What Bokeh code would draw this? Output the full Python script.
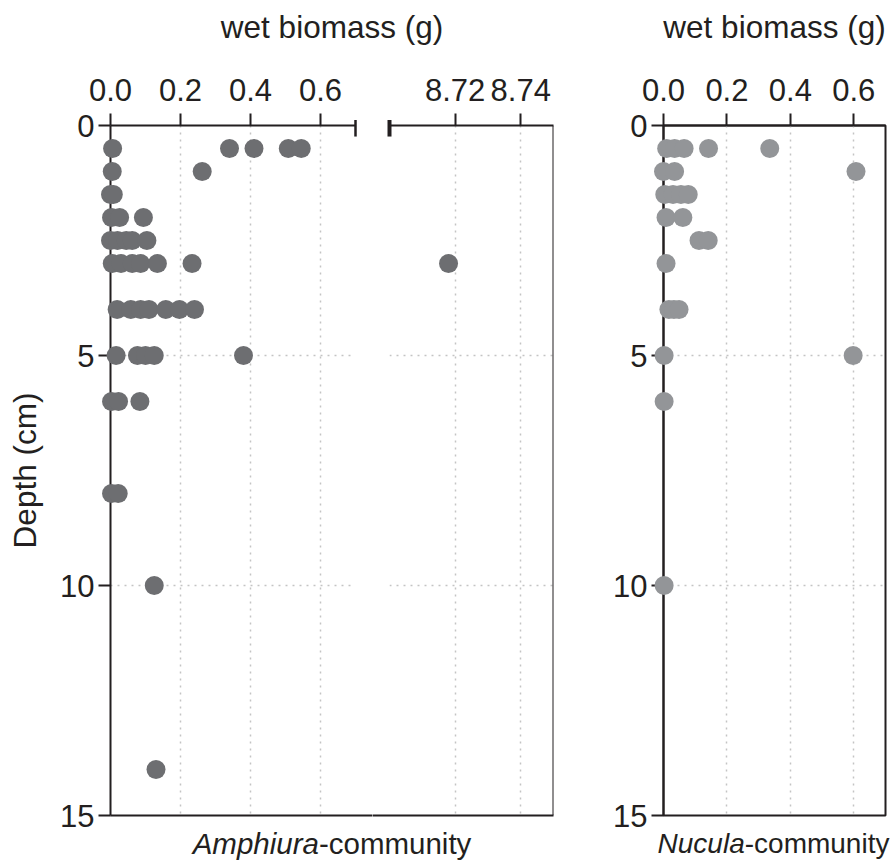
from bokeh.plotting import figure
from bokeh.layouts import column, row
from bokeh.models import (ColumnDataSource, Range1d, LinearAxis, FixedTicker,
                          PrintfTickFormatter, Grid, Span)
from bokeh.embed import file_html
from bokeh.resources import INLINE
from bokeh.core.properties import value

# ---- data: depth (cm) and wet biomass (g) per sample ----
amphiura_depth = [0.5, 0.5, 0.5, 0.5, 0.5,
                  1, 1,
                  1.5, 1.5,
                  2, 2, 2,
                  2.5, 2.5, 2.5, 2.5, 2.5,
                  3, 3, 3, 3, 3, 3, 3,
                  4, 4, 4, 4, 4, 4, 4,
                  5, 5, 5, 5, 5,
                  6, 6, 6,
                  8, 8,
                  10,
                  14]
amphiura_biomass = [0.006, 0.34, 0.41, 0.508, 0.545,
                    0.005, 0.262,
                    0.0, 0.008,
                    0.003, 0.026, 0.094,
                    0.0, 0.02, 0.045, 0.062, 0.104,
                    0.005, 0.03, 0.062, 0.086, 0.134, 0.233, 8.718,
                    0.019, 0.058, 0.086, 0.11, 0.158, 0.197, 0.24,
                    0.016, 0.077, 0.10, 0.125, 0.38,
                    0.003, 0.023, 0.084,
                    0.003, 0.022,
                    0.125,
                    0.13]

nucula_depth = [0.5, 0.5, 0.5, 0.5, 0.5,
                1, 1, 1,
                1.5, 1.5, 1.5, 1.5,
                2, 2,
                2.5, 2.5,
                3,
                4, 4, 4,
                5, 5,
                6,
                10]
nucula_biomass = [0.01, 0.035, 0.065, 0.142, 0.335,
                  0.0, 0.035, 0.607,
                  0.004, 0.03, 0.055, 0.078,
                  0.008, 0.061,
                  0.112, 0.141,
                  0.008,
                  0.017, 0.033, 0.049,
                  0.002, 0.598,
                  0.002,
                  0.002]

depth_ticks = [0, 5, 10, 15]
depth_grid = [5, 10]
low_ticks = [0.0, 0.2, 0.4, 0.6]
high_ticks = [8.72, 8.74]

# ---- styling / layout ----
INK = "#231f20"
AMPH_COLOR = "#6d6e71"
NUC_COLOR = "#939598"
GRID_COLOR = "#c4c4c4"
FONT = "Liberation Sans"
TICK_SIZE = "31px"
TITLE_SIZE = "31.5px"
DOT = 19

W = 894
TOP_H = 60
BORDER_TOP = 65
FRAME_H = 690
BORDER_BOTTOM = 20
PANEL_H = BORDER_TOP + FRAME_H + BORDER_BOTTOM
BOTTOM_OVERLAP = 20          # caption strip slides up over the empty panel margin
BOTTOM_H = 861 - TOP_H - PANEL_H + BOTTOM_OVERLAP

LOW_RANGE = (0.0, 0.7)
HIGH_RANGE = (8.70, 8.75)
DEPTH_RANGE = (15, 0)

# panel widths: (border_left, frame, border_right)
A_DIMS = (110, 245, 17)
B_DIMS = (17, 164, 10)
C_DIMS = (100, 222, 9)


def make_panel(dims, xr):
    bl, fw, br = dims
    p = figure(width=bl + fw + br, height=PANEL_H,
               x_range=Range1d(*xr), y_range=Range1d(*DEPTH_RANGE),
               x_axis_type=None, y_axis_type=None,
               toolbar_location=None, output_backend="svg",
               min_border_left=bl, min_border_right=br,
               min_border_top=BORDER_TOP, min_border_bottom=BORDER_BOTTOM,
               outline_line_color=None)
    return p


def style_axis(ax):
    ax.axis_line_color = INK
    ax.axis_line_width = 2
    ax.major_tick_line_color = INK
    ax.major_tick_line_width = 2
    ax.major_tick_in = 0
    ax.major_tick_out = 12
    ax.minor_tick_line_color = None
    ax.major_label_text_font = FONT
    ax.major_label_text_font_size = TICK_SIZE
    ax.major_label_text_color = INK


def top_axis(p, ticks, fmt):
    ax = LinearAxis(ticker=FixedTicker(ticks=ticks),
                    formatter=PrintfTickFormatter(format=fmt))
    style_axis(ax)
    ax.major_label_standoff = 13
    p.add_layout(ax, "above")
    return ax


def left_axis(p, label=None):
    ax = LinearAxis(ticker=FixedTicker(ticks=depth_ticks))
    style_axis(ax)
    ax.major_label_standoff = 4
    if label:
        ax.axis_label = label
        ax.axis_label_text_font = FONT
        ax.axis_label_text_font_size = TITLE_SIZE
        ax.axis_label_text_font_style = "normal"
        ax.axis_label_text_color = INK
        ax.axis_label_standoff = 14
    p.add_layout(ax, "left")
    return ax


def add_grid(p, xticks):
    for dim, ticks in ((0, xticks), (1, depth_grid)):
        g = Grid(dimension=dim, ticker=FixedTicker(ticks=ticks),
                 grid_line_color=GRID_COLOR, grid_line_width=1.5,
                 grid_line_dash="2 5")
        p.add_layout(g)


def split(depths, values, lo, hi):
    pairs = [(d, v) for d, v in zip(depths, values) if lo <= v <= hi]
    return dict(depth=[d for d, _ in pairs], biomass=[v for _, v in pairs])


# ---- Amphiura panel, lower biomass segment ----
pa = make_panel(A_DIMS, LOW_RANGE)
add_grid(pa, low_ticks)
left_axis(pa, "Depth (cm)")
top_axis(pa, low_ticks, "%.1f")
a_unit = (LOW_RANGE[1] - LOW_RANGE[0]) / A_DIMS[1]
# bottom border runs on through the gap of the broken axis
pa.segment(x0=[LOW_RANGE[0]], x1=[LOW_RANGE[1] + A_DIMS[2] * a_unit],
           y0=[DEPTH_RANGE[0]], y1=[DEPTH_RANGE[0]],
           line_color=INK, line_width=2, level="overlay")
# break mark at the end of the lower segment
pa.segment(x0=[LOW_RANGE[1]], x1=[LOW_RANGE[1]], y0=[-0.12], y1=[0.24],
           line_color=INK, line_width=2.5, level="overlay")
pa.scatter(x="biomass", y="depth",
           source=ColumnDataSource(split(amphiura_depth, amphiura_biomass, *LOW_RANGE)),
           size=DOT, fill_color=AMPH_COLOR, line_color=None, level="overlay")

# ---- Amphiura panel, upper biomass segment ----
pb = make_panel(B_DIMS, HIGH_RANGE)
add_grid(pb, high_ticks)
top_axis(pb, high_ticks, "%.2f")
b_unit = (HIGH_RANGE[1] - HIGH_RANGE[0]) / B_DIMS[1]
pb.segment(x0=[HIGH_RANGE[0] - B_DIMS[0] * b_unit], x1=[HIGH_RANGE[1]],
           y0=[DEPTH_RANGE[0]], y1=[DEPTH_RANGE[0]],
           line_color=INK, line_width=2, level="overlay")
pb.add_layout(Span(location=HIGH_RANGE[1], dimension="height",
                   line_color=INK, line_width=2))
pb.segment(x0=[HIGH_RANGE[0]], x1=[HIGH_RANGE[0]], y0=[-0.12], y1=[0.24],
           line_color=INK, line_width=4, level="overlay")
pb.scatter(x="biomass", y="depth",
           source=ColumnDataSource(split(amphiura_depth, amphiura_biomass, *HIGH_RANGE)),
           size=DOT, fill_color=AMPH_COLOR, line_color=None, level="overlay")

# ---- Nucula panel ----
pc = make_panel(C_DIMS, LOW_RANGE)
pc.outline_line_color = INK
pc.outline_line_width = 2
add_grid(pc, low_ticks)
left_axis(pc)
top_axis(pc, low_ticks, "%.1f")
pc.scatter(x="biomass", y="depth",
           source=ColumnDataSource(dict(depth=nucula_depth, biomass=nucula_biomass)),
           size=DOT, fill_color=NUC_COLOR, line_color=None, level="overlay")

# ---- title strips above and below the panels ----
a_left = A_DIMS[0]
b_right = A_DIMS[0] + A_DIMS[1] + A_DIMS[2] + B_DIMS[0] + B_DIMS[1]
c_left = A_DIMS[0] + A_DIMS[1] + A_DIMS[2] + sum(B_DIMS) + C_DIMS[0]
c_right = c_left + C_DIMS[1]
amph_center = (a_left + b_right) / 2
nuc_center = (c_left + c_right) / 2 - 1


def strip(h):
    s = figure(width=W, height=h, x_range=Range1d(0, W), y_range=Range1d(h, 0),
               x_axis_type=None, y_axis_type=None, toolbar_location=None,
               output_backend="svg", min_border=0, outline_line_color=None,
               background_fill_color=None, border_fill_color=None)
    return s


top = strip(TOP_H)
top.text(x=[amph_center, nuc_center + 1], y=[26, 26],
         text=["wet biomass (g)", "wet biomass (g)"],
         text_font=value(FONT), text_font_size=TITLE_SIZE, text_color=INK,
         text_align="center", text_baseline="alphabetic")

bottom = strip(BOTTOM_H)
bottom.styles = {"margin-top": f"-{BOTTOM_OVERLAP}px"}
caption_y = BOTTOM_H - 18
# genus name (italic), its em width, font size and centre of the caption
communities = [("Amphiura", 4.279, 29.5, amph_center),
               ("Nucula", 3.112, 28.0, nuc_center)]
suffix_em = 5.167  # em width of "-community"
for genus, genus_em, size, center in communities:
    total = (genus_em + suffix_em) * size
    split_x = center - total / 2 + genus_em * size
    bottom.text(x=[split_x], y=[caption_y], text=[genus], text_font=value(FONT),
                text_font_size=f"{size}px", text_font_style="italic",
                text_color=INK, text_align="right", text_baseline="alphabetic")
    bottom.text(x=[split_x], y=[caption_y], text=["-community"], text_font=value(FONT),
                text_font_size=f"{size}px", text_color=INK,
                text_align="left", text_baseline="alphabetic")

layout = column(top, row(pa, pb, pc), bottom)

with open("out.html", "w") as f:
    f.write(file_html(layout, INLINE))
